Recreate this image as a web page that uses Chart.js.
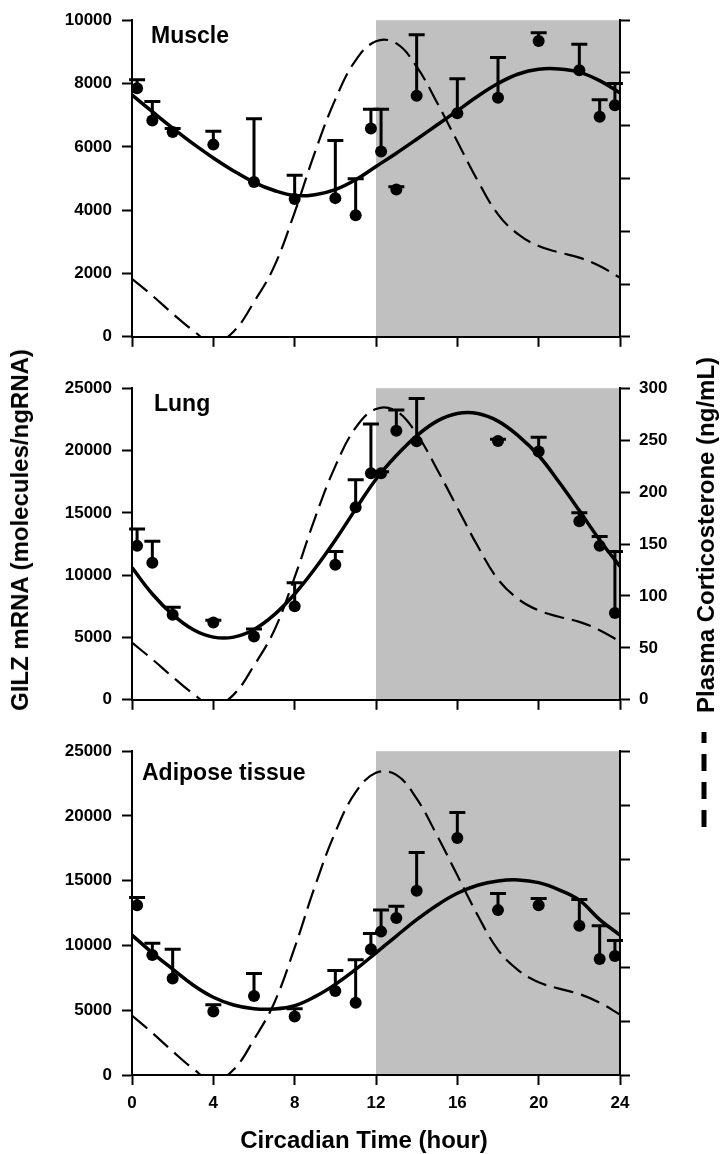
<!DOCTYPE html>
<html>
<head>
<meta charset="utf-8">
<script src="https://cdn.jsdelivr.net/npm/chart.js@4.4.1/dist/chart.umd.min.js"></script>
<style>
  body { margin: 0; background: #fff; }
  #wrap { position: relative; width: 721px; height: 1154px; overflow: hidden;
          font-family: "Liberation Sans", Arial, sans-serif; }
  #wrap canvas { position: absolute; left: 0; }
  .axis-title { position: absolute; font-weight: bold; font-size: 24px; line-height: 1;
                white-space: nowrap; color: #000; transform: translate(-50%, -50%); }
  .axis-title.vert { transform: translate(-50%, -50%) rotate(-90deg); }
</style>
</head>
<body>
<div id="wrap">
  <canvas id="muscle"  width="721" height="357" style="top:0"></canvas>
  <canvas id="lung"    width="721" height="352" style="top:368px"></canvas>
  <canvas id="adipose" width="721" height="423" style="top:731px"></canvas>
  <div class="axis-title vert" style="left:20px;top:530px">GILZ mRNA (molecules/ngRNA)</div>
  <div class="axis-title vert" style="left:706px;top:535px">Plasma Corticosterone (ng/mL)</div>
  <div class="axis-title" style="left:364px;top:1140px">Circadian Time (hour)</div>
</div>
<script>
/* ── Data ─────────────────────────────────── */
const xTicks = [0, 4, 8, 12, 16, 20, 24];
const hours  = [0,1,2,3,4,5,6,7,8,9,10,11,12,13,14,15,16,17,18,19,20,21,22,23,24];

// plasma corticosterone (ng/mL), same curve in every panel
const corticosterone = [55,39,22,6,-6,5,33,67,118,175,225,262,280,278,256,222,185,148,116,97,86,80,75,67,56];

// fitted GILZ curves
const muscleFit  = [7640,7110,6590,6100,5650,5240,4880,4620,4460,4490,4650,4960,5380,5800,6240,6690,7140,7600,8000,8300,8450,8460,8360,8090,7700];
const lungFit    = [10600,8490,6830,5640,5030,5030,5640,6830,8490,10530,12820,15300,17700,19600,21180,22360,22970,22970,22360,21180,19600,17470,15180,12820,10700];
const adiposeFit = [10800,9430,8170,6950,6000,5400,5120,5100,5350,6050,7000,8150,9430,10730,11990,13110,14030,14650,14980,15060,14850,14300,13500,12000,10800];

// sampled points (mean and top of error bar)
const sampleTimes  = [0.25,1,2,4,6,8,10,11,11.75,12.25,13,14,16,18,20,22,23,23.75];
const muscleMean   = [7850,6830,6470,6070,4890,4350,4380,3840,6580,5850,4650,7610,7060,7550,9340,8420,6950,7310];
const muscleUpper  = [8120,7430,6580,6490,6890,5100,6200,4990,7190,7190,4740,9540,8150,8820,9600,9240,7490,8000];
const lungTimes    = [0.25,1,2,4,6,8,10,11,11.75,12.25,13,14,18,20,22,23,23.75];
const lungMean     = [12350,10990,6820,6210,5080,7500,10830,15450,18180,18180,21590,20750,20760,19920,14320,12350,6970];
const lungUpper    = [13710,12730,7420,6380,5680,9390,11890,17650,22120,18300,23260,24170,20900,21060,15000,13110,11890];
const adiposeMean  = [13100,9260,7450,4900,6100,4520,6480,5570,9710,11070,12120,14230,18300,12730,13100,11520,8960,9190];
const adiposeUpper = [13700,10170,9710,5420,7830,5120,8060,8890,10920,12730,13030,17170,20260,14010,13630,13550,11520,10390];

const nightStart = 12, nightEnd = 24;

/* ── Plugins ──────────────────────────────── */
Chart.defaults.font.family = '"Liberation Sans", Arial, sans-serif';
Chart.defaults.font.weight = 'bold';
Chart.defaults.font.size   = 17;
Chart.defaults.color       = '#000';

const nightShade = {
    id: 'nightShade',
    beforeDraw(chart) {
        const { ctx, chartArea: a, scales: { x } } = chart;
        const x0 = x.getPixelForValue(nightStart), x1 = x.getPixelForValue(nightEnd);
        ctx.save();
        ctx.fillStyle = '#c0c0c0';
        ctx.fillRect(x0, a.top, x1 - x0, a.bottom - a.top);
        ctx.restore();
    }
};

const errorBars = {
    id: 'errorBars',
    afterDatasetsDraw(chart) {
        const { ctx, scales: { x, y } } = chart;
        const ds = chart.data.datasets[2];
        ctx.save();
        ctx.strokeStyle = '#000';
        ctx.lineWidth = 3;
        ds.data.forEach((p, i) => {
            const px = x.getPixelForValue(p.x);
            const y0 = y.getPixelForValue(p.y);
            const y1 = y.getPixelForValue(ds.upper[i]);
            ctx.beginPath();
            ctx.moveTo(px, y0);
            ctx.lineTo(px, y1);
            ctx.moveTo(px - 8, y1);
            ctx.lineTo(px + 8, y1);
            ctx.stroke();
        });
        ctx.restore();
    }
};

const panelLabel = {
    id: 'panelLabel',
    afterDraw(chart, args, opts) {
        const { ctx, chartArea: a } = chart;
        ctx.save();
        ctx.font = 'bold 23px "Liberation Sans", Arial, sans-serif';
        ctx.fillStyle = '#000';
        ctx.textBaseline = 'alphabetic';
        ctx.fillText(opts.text, opts.x, a.top + opts.dy);
        if (opts.legend) {
            // dashed sample next to the corticosterone axis title
            ctx.lineWidth = 5;
            ctx.setLineDash([17, 11]);
            ctx.lineDashOffset = 6;
            ctx.beginPath();
            ctx.moveTo(704, 1);
            ctx.lineTo(704, 99);
            ctx.stroke();
        }
        ctx.restore();
    }
};

/* ── Panels ───────────────────────────────── */
const axisGrid   = { drawOnChartArea: false, drawTicks: true, tickLength: 10, tickWidth: 2, tickColor: '#000' };
const axisBorder = { display: true, color: '#000', width: 2 };

function crearPanel(id, o) {
    return new Chart(document.getElementById(id), {
        type: 'line',
        data: {
            datasets: [
                {
                    data: hours.map((h, i) => ({ x: h, y: o.fit[i] })),
                    borderColor: '#000', borderWidth: 3.5, tension: 0.4,
                    pointRadius: 0, yAxisID: 'y'
                },
                {
                    data: hours.map((h, i) => ({ x: h, y: corticosterone[i] })),
                    borderColor: '#000', borderWidth: 2.2, borderDash: [20, 8], tension: 0.4,
                    capBezierPoints: false, pointRadius: 0, yAxisID: 'y2'
                },
                {
                    data: o.times.map((t, i) => ({ x: t, y: o.mean[i] })),
                    upper: o.upper,
                    showLine: false, pointRadius: 6, pointBorderWidth: 0,
                    pointBackgroundColor: '#000', pointBorderColor: '#000', yAxisID: 'y'
                }
            ]
        },
        options: {
            responsive: false,
            animation: false,
            devicePixelRatio: 1,
            layout: { padding: { top: o.padTop, left: 0, right: 0, bottom: 0 } },
            plugins: {
                legend: { display: false },
                tooltip: { enabled: false },
                panelLabel: { text: o.label, x: o.labelX, dy: o.labelDy, legend: !!o.legend }
            },
            scales: {
                x: {
                    type: 'linear', min: 0, max: 24,
                    afterBuildTicks: s => { s.ticks = xTicks.map(v => ({ value: v })); },
                    ticks: { display: o.xLabels, padding: 8, maxRotation: 0, callback: v => String(v) },
                    grid: axisGrid, border: axisBorder,
                    afterFit: s => { s.height = o.xHeight; }
                },
                y: {
                    position: 'left', min: 0, max: o.yMax,
                    ticks: { stepSize: o.yStep, padding: 10, callback: v => String(v) },
                    grid: axisGrid, border: axisBorder,
                    afterFit: s => { s.width = 132; }
                },
                y2: {
                    position: 'right', min: 0, max: 300,
                    ticks: { stepSize: 50, padding: 9, display: o.y2Labels, callback: v => String(v) },
                    grid: axisGrid, border: axisBorder,
                    afterFit: s => { s.width = 101; }
                }
            }
        },
        plugins: [nightShade, errorBars, panelLabel]
    });
}

crearPanel('muscle', {
    fit: muscleFit, times: sampleTimes, mean: muscleMean, upper: muscleUpper,
    yMax: 10000, yStep: 2000, padTop: 16, xHeight: 10, xLabels: false, y2Labels: false,
    label: 'Muscle', labelX: 151, labelDy: 23
});
crearPanel('lung', {
    fit: lungFit, times: lungTimes, mean: lungMean, upper: lungUpper,
    yMax: 25000, yStep: 5000, padTop: 12, xHeight: 10, xLabels: false, y2Labels: true,
    label: 'Lung', labelX: 154, labelDy: 23
});
crearPanel('adipose', {
    fit: adiposeFit, times: sampleTimes, mean: adiposeMean, upper: adiposeUpper,
    yMax: 25000, yStep: 5000, padTop: 12, xHeight: 79, xLabels: true, y2Labels: false,
    label: 'Adipose tissue', labelX: 142, labelDy: 29, legend: true
});
</script>
</body>
</html>
